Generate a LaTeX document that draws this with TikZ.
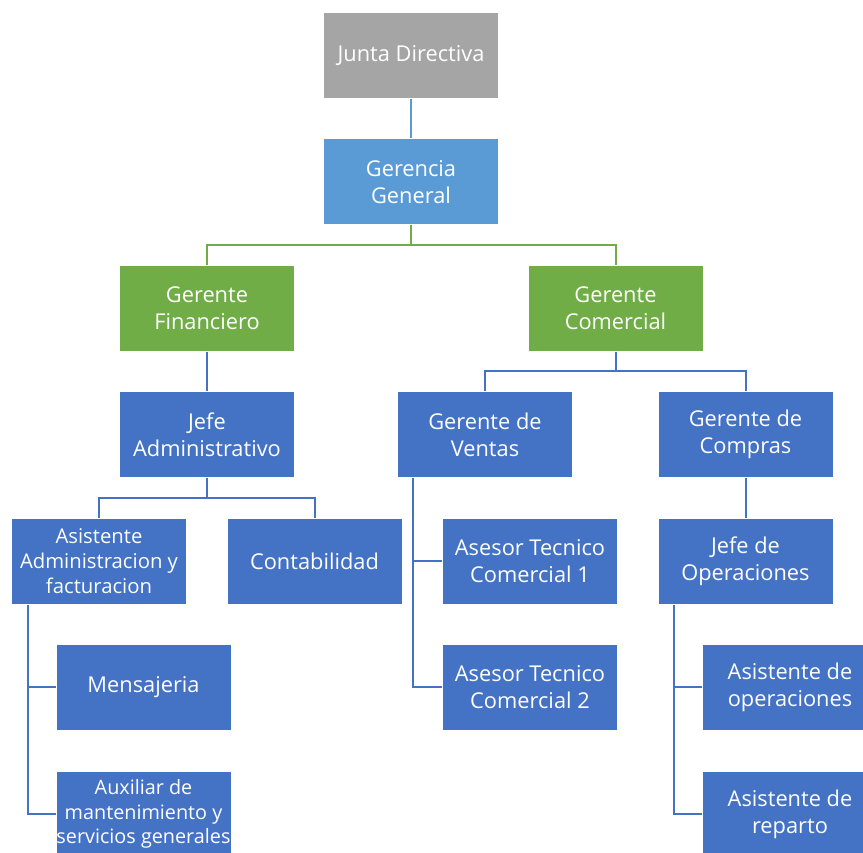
\documentclass[tikz,border=0pt]{standalone}
\usepackage{fontspec}
\setmainfont{Open Sans}
\definecolor{cgray}{HTML}{A5A5A5}
\definecolor{clblue}{HTML}{5B9BD5}
\definecolor{cgreen}{HTML}{70AD47}
\definecolor{cblue}{HTML}{4472C4}
\tikzset{
  box/.style={rectangle, draw=white, line width=1pt, fill=cblue, text=white,
    minimum width=175pt, minimum height=86pt, inner sep=0pt, align=center,
    font=\fontsize{21.8}{27}\selectfont},
  smallbox/.style={box, font=\fontsize{20.3}{25}\selectfont},
  tinybox/.style={box, font=\fontsize{19.8}{24.5}\selectfont},
  graybox/.style={box, fill=cgray},
  lbox/.style={box, fill=clblue},
  gbox/.style={box, fill=cgreen},
  bline/.style={draw=cblue, line width=2pt},
  lline/.style={draw=clblue, line width=2pt},
  gline/.style={draw=cgreen, line width=2pt},
}
\begin{document}
\begin{tikzpicture}[x=1pt,y=-1pt]
\useasboundingbox (0,0) rectangle (863,853);
\clip (0,0) rectangle (863,853);
\node[graybox] (junta) at (411,56) {Junta Directiva};
\node[lbox] (gg) at (411,182) {Gerencia\\General};
\node[gbox] (gf) at (207,308.5) {Gerente\\Financiero};
\node[gbox] (gc) at (615.5,308.5) {Gerente\\Comercial};
\node[box] (ja) at (207,434.5) {Jefe\\Administrativo};
\node[box] (gv) at (485,434.5) {Gerente de\\Ventas};
\node[box] (gco) at (745.5,434.5) {Gerente de\\Compras};
\node[smallbox] (aa) at (99,561) {Asistente\\Administracion y\\facturacion};
\node[box] (cont) at (314.5,561) {Contabilidad};
\node[box] (at1) at (530,561) {Asesor Tecnico\\Comercial 1};
\node[box] (jo) at (745.5,561) {Jefe de\\Operaciones};
\node[box] (mens) at (143.5,687) {Mensajeria};
\node[tinybox] (aux) at (143.5,814) {Auxiliar de\\mantenimiento y\\servicios generales};
\node[box] (at2) at (530,687) {Asesor Tecnico\\Comercial 2};
\node[box] (aop) at (790,687) {Asistente de\\operaciones};
\node[box] (are) at (790,814) {Asistente de\\reparto};
% connectors
\draw[lline] (junta.south) -- (gg.south |- gg.north);
\draw[gline] (gg.south) -- ++(0,20) -| (gf.north);
\draw[gline] (gg.south) -- ++(0,20) -| (gc.north);
\draw[bline] (gf.south) -- (ja.north);
\draw[bline] (gc.south) -- ++(0,19.5) -| (gv.north);
\draw[bline] (gc.south) -- ++(0,19.5) -| (gco.north);
\draw[bline] (ja.south) -- ++(0,20) -| (aa.north);
\draw[bline] (ja.south) -- ++(0,20) -| (cont.north);
\draw[bline] (gco.south) -- (jo.north);
\draw[bline] ([xshift=17pt]aa.south west) |- (mens.west);
\draw[bline] ([xshift=17pt]aa.south west) |- (aux.west);
\draw[bline] ([xshift=16pt]gv.south west) |- (at1.west);
\draw[bline] ([xshift=16pt]gv.south west) |- (at2.west);
\draw[bline] ([xshift=16pt]jo.south west) |- (aop.west);
\draw[bline] ([xshift=16pt]jo.south west) |- (are.west);
\end{tikzpicture}
\end{document}
